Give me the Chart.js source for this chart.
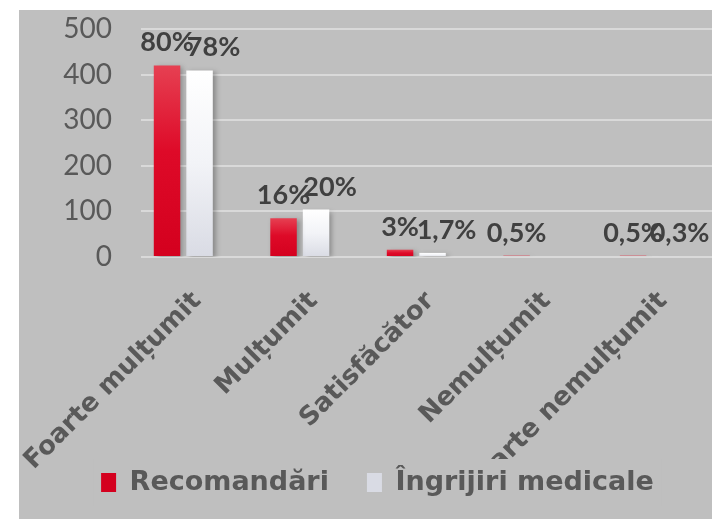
<!DOCTYPE html>
<html>
<head>
<meta charset="utf-8">
<script src="https://cdn.jsdelivr.net/npm/chart.js@4.4.0/dist/chart.umd.min.js"></script>
<style>
  body { margin: 0; background: #fff; }
  #wrap { position: absolute; left: 19px; top: 10px; width: 693px; height: 509px; background: #bfbfbf; }
</style>
</head>
<body>
<div id="wrap"><canvas id="chart" width="693" height="509"></canvas></div>
<script>
const categories = ['Foarte mulțumit', 'Mulțumit', 'Satisfăcător', 'Nemulțumit', 'Foarte nemulțumit'];
const recomandari = [420, 85, 16, 3, 3];
const ingrijiri = [409, 104, 9, 0, 2];
const recomandariPct = ['80%', '16%', '3%', '0,5%', '0,5%'];
const ingrijiriPct = ['78%', '20%', '1,7%', '', '0,3%'];
const yTicks = [0, 100, 200, 300, 400, 500];

Chart.defaults.font.family = 'Lato';
const wideBold = { family: 'DejaVu Sans', weight: 'bold' };

// vertical gradient per bar, from its top down to the zero line
function barGradient(stops, fallback) {
    return function (c) {
        const chart = c.chart;
        if (c.type !== 'data' || !chart.chartArea) return fallback;
        const y = chart.scales.y;
        const y0 = y.getPixelForValue(c.parsed.y);
        const y1 = y.getPixelForValue(0);
        if (!(y1 > y0)) return fallback;
        const g = chart.ctx.createLinearGradient(0, y0, 0, y1);
        stops.forEach(s => g.addColorStop(s[0], s[1]));
        return g;
    };
}

// soft drop shadow behind the bars
const barShadow = {
    id: 'barShadow',
    beforeDatasetDraw(chart) {
        const ctx = chart.ctx;
        ctx.save();
        ctx.shadowColor = 'rgba(0,0,0,0.28)';
        ctx.shadowBlur = 5;
        ctx.shadowOffsetX = 3;
        ctx.shadowOffsetY = 2;
    },
    afterDatasetDraw(chart) {
        chart.ctx.restore();
    }
};

// percentage text above each bar
const valueLabels = {
    id: 'valueLabels',
    afterDatasetsDraw(chart) {
        const ctx = chart.ctx;
        ctx.save();
        ctx.font = 'bold 27px Lato';
        ctx.fillStyle = '#404040';
        ctx.textAlign = 'center';
        ctx.textBaseline = 'alphabetic';
        chart.data.datasets.forEach((ds, di) => {
            chart.getDatasetMeta(di).data.forEach((bar, i) => {
                const txt = ds.pctLabels[i];
                if (!txt) return;
                ctx.fillText(txt, bar.x + ds.labelShift, bar.y - 14);
            });
        });
        ctx.restore();
    }
};

// the category labels may run down past their box; the legend sits on
// its own opaque panel and covers whatever runs under it
const legendPanel = {
    id: 'legendPanel',
    afterLayout(chart) {
        chart.scales.x.bottom = chart.height;
    },
    afterDraw(chart) {
        const boxes = chart.legend.legendHitBoxes;
        if (!boxes || !boxes.length) return;
        const left = Math.min(...boxes.map(b => b.left)) - 8;
        const right = Math.max(...boxes.map(b => b.left + b.width)) + 8;
        const top = Math.min(...boxes.map(b => b.top)) - 10;
        const bottom = Math.max(...boxes.map(b => b.top + b.height)) + 10;
        const ctx = chart.ctx;
        ctx.save();
        ctx.fillStyle = '#bfbfbf';
        ctx.fillRect(left, top, right - left, bottom - top);
        ctx.restore();
        chart.legend.draw();
    }
};

const ctx = document.getElementById('chart').getContext('2d');
const myChart = new Chart(ctx, {
    type: 'bar',
    data: {
        datasets: [{
            label: 'Recomandări',
            data: recomandari.map((v, i) => ({ x: i, y: v })),
            pctLabels: recomandariPct,
            labelShift: 0,
            backgroundColor: barGradient([[0, '#e64052'], [0.45, '#de0a28'], [1, '#d4001e']], '#dc0a26'),
            borderWidth: 0
        }, {
            label: 'Îngrijiri medicale',
            data: ingrijiri.map((v, i) => ({ x: i, y: v })),
            pctLabels: ingrijiriPct,
            labelShift: 14,
            backgroundColor: barGradient([[0, '#ffffff'], [0.5, '#f2f3f7'], [1, '#d9dbe4']], '#f0f1f6'),
            borderWidth: 0
        }]
    },
    options: {
        responsive: false,
        animation: false,
        barPercentage: 0.815,
        categoryPercentage: 0.558,
        layout: { padding: { top: 19, left: 24, right: 0, bottom: 13 } },
        plugins: {
            tooltip: { enabled: false },
            legend: {
                position: 'bottom',
                labels: {
                    boxWidth: 15,
                    boxHeight: 19,
                    padding: 38,
                    color: '#595959',
                    font: { size: 27, ...wideBold }
                }
            }
        },
        scales: {
            x: {
                type: 'linear',
                bounds: 'data',
                offset: false,
                min: -0.363,
                max: 4.538,
                afterBuildTicks: s => { s.ticks = categories.map((c, i) => ({ value: i })); },
                grid: { display: false },
                border: { display: false },
                ticks: {
                    autoSkip: false,
                    minRotation: 45,
                    maxRotation: 45,
                    padding: 21,
                    labelOffset: 14,
                    color: '#595959',
                    font: { size: 26, ...wideBold },
                    callback: v => categories[v] ?? ''
                },
                afterFit: s => { s.height = 174; s.paddingLeft = 0; s.paddingRight = 0; }
            },
            y: {
                min: 0,
                max: 500,
                afterBuildTicks: s => { s.ticks = yTicks.map(v => ({ value: v })); },
                grid: { color: '#d9d9d9', lineWidth: 2, drawTicks: false },
                border: { display: false },
                ticks: { color: '#595959', font: { size: 28 }, padding: 29 },
                afterFit: s => { s.width = 98; s.paddingTop = 0; s.paddingBottom = 0; }
            }
        }
    },
    plugins: [barShadow, valueLabels, legendPanel]
});
</script>
</body>
</html>
